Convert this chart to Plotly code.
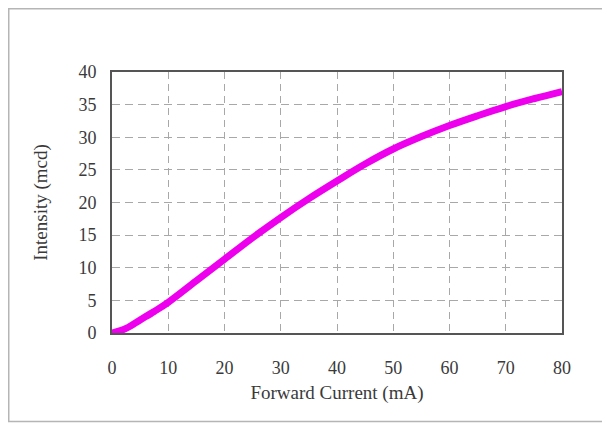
import plotly.graph_objects as go

current_ma = [0, 2.5, 5, 7.5, 10, 15, 20, 25, 30, 35, 40, 45, 50, 55, 60, 65, 70, 75, 80]
intensity_mcd = [0, 0.7, 2.0, 3.3, 4.7, 8.0, 11.3, 14.6, 17.7, 20.6, 23.3, 25.9, 28.2, 30.1, 31.8, 33.3, 34.7, 35.9, 37.0]
x_ticks = [0, 10, 20, 30, 40, 50, 60, 70, 80]
y_ticks = [0, 5, 10, 15, 20, 25, 30, 35, 40]

# page has an 8px body margin, so the figure is sized to fit inside it
W, H = 602, 415
L, R, T, B = 104, 48, 64, 90
pw, ph = W - L - R, H - T - B

def px_x(p):
    return (p - L) / pw

def px_y(p):
    return (H - B - p) / ph

fig = go.Figure()
fig.add_trace(go.Scatter(
    x=current_ma, y=intensity_mcd, mode="lines",
    line=dict(color="#ee00ee", width=7, shape="spline", smoothing=1.0),
    showlegend=False,
))

font = dict(family="Liberation Serif, Times New Roman, serif", color="#3a3a3a")

fig.update_xaxes(
    range=[0, 80], tickvals=x_ticks, ticktext=[str(v) for v in x_ticks],
    showgrid=True, gridcolor="#a8a8a8", griddash="7px,5px", gridwidth=1,
    showline=True, linecolor="#555555", linewidth=2, mirror=True,
    ticks="", ticklabelstandoff=17, zeroline=False,
    tickfont=dict(size=18, **font),
    title=dict(text="Forward Current (mA)", font=dict(size=19, **font), standoff=9),
)
fig.update_yaxes(
    range=[0, 40], tickvals=y_ticks, ticktext=[str(v) for v in y_ticks],
    showgrid=True, gridcolor="#a8a8a8", griddash="8px,5px", gridwidth=1,
    showline=True, linecolor="#555555", linewidth=2, mirror=True,
    ticks="", ticklabelstandoff=10, zeroline=False,
    tickfont=dict(size=18, **font),
    title=dict(text="Intensity (mcd)", font=dict(size=19, **font), standoff=26),
)

fig.add_shape(type="rect", xref="paper", yref="paper",
              x0=px_x(0.75), x1=px_x(601), y0=px_y(413.5), y1=px_y(0.75),
              line=dict(color="#b5b5b5", width=1.5), layer="below")

fig.update_layout(
    width=W, height=H,
    margin=dict(l=L, r=R, t=T, b=B),
    paper_bgcolor="white", plot_bgcolor="white",
)
fig.write_html("out.html")
